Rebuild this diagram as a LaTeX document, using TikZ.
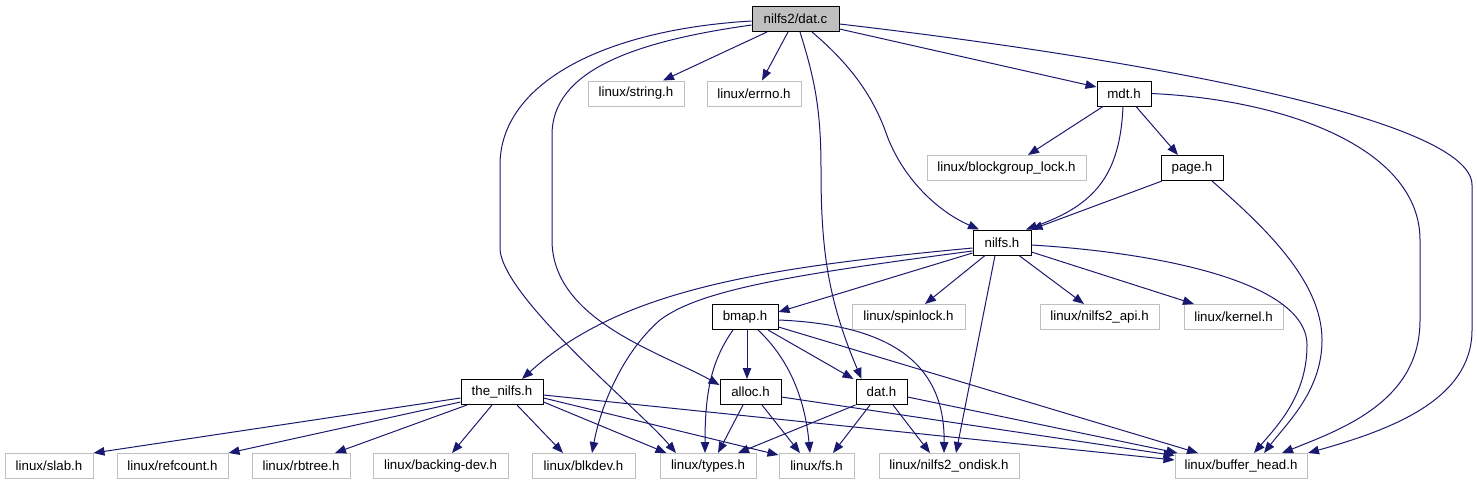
\documentclass[tikz,border=0pt]{standalone}
\usepackage{fontspec}
\setmainfont{Liberation Sans}
\usetikzlibrary{arrows.meta,calc}
\definecolor{edgec}{RGB}{25,25,112}
\definecolor{extc}{RGB}{191,191,191}
\begin{document}
\begin{tikzpicture}[x=1pt,y=-1pt,
  box/.style={rectangle, inner sep=0pt, minimum height=25pt, line width=1pt,
    font=\fontsize{13.3}{16}\selectfont},
  inc/.style={box, draw=black},
  ext/.style={box, draw=extc},
  src/.style={box, draw=black, fill=extc},
  edge/.style={draw=edgec, line width=1pt, -{Triangle[length=11pt,width=8.5pt]}}]
\useasboundingbox (0,0) rectangle (1477,485);

% nodes
\node[src, minimum width=87pt] (datc) at (795.5,19) {nilfs2/dat.c};
\node[ext, minimum width=96pt] (string) at (636,93.5) {linux/string.h};
\node[ext, minimum width=94pt] (errno) at (754,93.5) {linux/errno.h};
\node[inc, minimum width=54pt] (mdt) at (1124,93.5) {mdt.h};
\node[ext, minimum width=159pt] (bgl) at (1006.5,168) {linux/blockgroup\_lock.h};
\node[inc, minimum width=62pt] (page) at (1192,168) {page.h};
\node[inc, minimum width=58pt] (nilfs) at (1002,242.5) {nilfs.h};
\node[inc, minimum width=66pt] (bmap) at (745,317) {bmap.h};
\node[ext, minimum width=113pt] (spin) at (908.5,317) {linux/spinlock.h};
\node[ext, minimum width=119pt] (api) at (1099.5,317) {linux/nilfs2\_api.h};
\node[ext, minimum width=99pt] (kernel) at (1233.5,317) {linux/kernel.h};
\node[inc, minimum width=82pt] (thenilfs) at (502,392) {the\_nilfs.h};
\node[inc, minimum width=61pt] (alloc) at (750.5,392) {alloc.h};
\node[inc, minimum width=51pt] (dath) at (881.5,392) {dat.h};
\node[ext, minimum width=88pt] (slab) at (49,466) {linux/slab.h};
\node[ext, minimum width=111pt] (refc) at (172.5,466) {linux/refcount.h};
\node[ext, minimum width=98pt] (rbt) at (301,466) {linux/rbtree.h};
\node[ext, minimum width=135pt] (bdev) at (440.5,466) {linux/backing-dev.h};
\node[ext, minimum width=103pt] (blkdev) at (583.5,466) {linux/blkdev.h};
\node[ext, minimum width=96pt] (types) at (708,466) {linux/types.h};
\node[ext, minimum width=75pt] (fs) at (816.5,466) {linux/fs.h};
\node[ext, minimum width=140pt] (ondisk) at (949,466) {linux/nilfs2\_ondisk.h};
\node[ext, minimum width=132pt] (bh) at (1241,466) {linux/buffer\_head.h};

% edges from dat.c
\draw[edge] ($(datc.south)+(-28.5,0)$) -- ($(string.north)+(27,0)$);
\draw[edge] ($(datc.south)+(-7.5,0)$) -- ($(errno.north)+(8,0)$);
\draw[edge] ($(datc.south)+(4.5,0)$) .. controls (815,80) and (821,110) .. (821,170)
  .. controls (821,250) and (828,300) .. ($(dath.north west)+(6,0)$);
\draw[edge] ($(datc.south)+(16.5,0)$) .. controls (845,60) and (870,90) .. (885,130)
  .. controls (900,175) and (935,210) .. ($(nilfs.north)+(-23,0)$);
\draw[edge] ($(datc.east)+(0,10)$) -- ($(mdt.west)+(0,-6.5)$);
\draw[edge] ($(datc.east)+(0,5)$) .. controls (1150,60) and (1472,120) .. (1472,185)
  -- (1472,330) .. controls (1472,400) and (1390,430) .. ($(bh.north)+(67,0)$);
\draw[edge] ($(datc.west)+(0,6)$) .. controls (630,42) and (552,72) .. (552,135)
  -- (552,240) .. controls (552,320) and (660,352) .. ($(alloc.west)+(0,-7)$);
\draw[edge] ($(datc.west)+(0,2)$) .. controls (600,30) and (500,85) .. (500,165)
  -- (500,250) .. controls (505,300) and (640,410) .. ($(types.north)+(-32,0)$);

% edges from mdt.h
\draw[edge] ($(mdt.south)+(-21,0)$) -- ($(bgl.north)+(21.5,0)$);
\draw[edge] ($(mdt.south)+(-1,0)$) .. controls (1120,175) and (1095,205) .. ($(nilfs.north)+(24,0)$);
\draw[edge] ($(mdt.south)+(12,0)$) -- ($(page.north)+(-14,0)$);
\draw[edge] (mdt.east) .. controls (1290,100) and (1420,150) .. (1420,240)
  -- (1420,320) .. controls (1420,400) and (1345,428) .. ($(bh.north)+(41,0)$);

% edges from page.h
\draw[edge] ($(page.south)+(-30,0)$) -- (nilfs.north east);
\draw[edge] ($(page.south)+(20,0)$) .. controls (1262,225) and (1322,280) .. (1322,340)
  .. controls (1322,390) and (1288,422) .. ($(bh.north)+(23,0)$);

% edges from nilfs.h
\draw[edge] ($(nilfs.west)+(0,5.5)$) .. controls (760,268) and (620,290) .. ($(thenilfs.north)+(20,0)$);
\draw[edge] ($(nilfs.west)+(0,10.5)$) -- ($(bmap.east)+(0,-5)$);
\draw[edge] ($(nilfs.west)+(0,8.5)$) .. controls (790,275) and (700,290) .. (660,320)
  .. controls (620,355) and (600,410) .. ($(blkdev.north)+(8.5,0)$);
\draw[edge] ($(nilfs.south)+(-17,0)$) -- ($(spin.north)+(16.5,0)$);
\draw[edge] ($(nilfs.south)+(-7,0)$) -- ($(ondisk.north)+(7,0)$);
\draw[edge] ($(nilfs.south)+(17,0)$) -- ($(api.north)+(-15.5,0)$);
\draw[edge] ($(nilfs.east)+(0,9.5)$) -- ($(kernel.north)+(-39.5,0)$);
\draw[edge] ($(nilfs.east)+(0,2.5)$) .. controls (1150,252) and (1307,280) .. (1307,345)
  .. controls (1307,395) and (1278,425) .. ($(bh.north)+(13,0)$);

% edges from bmap.h
\draw[edge] ($(bmap.south)+(2,0)$) -- ($(alloc.north)+(-3.5,0)$);
\draw[edge] ($(bmap.south)+(-12,0)$) .. controls (712,360) and (705,390) .. ($(types.north)+(-3,0)$);
\draw[edge] ($(bmap.south)+(13,0)$) .. controls (790,360) and (805,400) .. ($(fs.north)+(-6.5,0)$);
\draw[edge] ($(bmap.south)+(23,0)$) -- ($(dath.north west)+(-2,0)$);
\draw[edge] ($(bmap.east)+(0,3)$) .. controls (900,325) and (945,370) .. ($(ondisk.north)+(-5,0)$);
\draw[edge] ($(bmap.east)+(0,10)$) -- ($(bh.north)+(-43,0)$);

% edges from alloc.h
\draw[edge] ($(alloc.south)+(-7.5,0)$) -- ($(types.north)+(10,0)$);
\draw[edge] ($(alloc.south)+(11.5,0)$) -- ($(fs.north)+(-16.5,0)$);
\draw[edge] ($(alloc.east)+(0,5)$) -- ($(bh.north west)+(0,2.5)$);

% edges from dat.h
\draw[edge] (dath.south west) -- ($(types.north)+(30,0)$);
\draw[edge] ($(dath.south)+(-11.5,0)$) -- ($(fs.north)+(16.5,0)$);
\draw[edge] ($(dath.south)+(11.5,0)$) -- ($(ondisk.north)+(-19,0)$);
\draw[edge] ($(dath.east)+(0,5)$) -- ($(bh.north west)+(3,0)$);

% edges from the_nilfs.h
\draw[edge] ($(thenilfs.west)+(0,6)$) -- (slab.north east);
\draw[edge] ($(thenilfs.west)+(0,10)$) -- (refc.north east);
\draw[edge] ($(thenilfs.south)+(-35,0)$) -- ($(rbt.north)+(34,0)$);
\draw[edge] ($(thenilfs.south)+(-10,0)$) -- ($(bdev.north)+(11.5,0)$);
\draw[edge] ($(thenilfs.south)+(15,0)$) -- ($(blkdev.north)+(-20.5,0)$);
\draw[edge] ($(thenilfs.east)+(0,10)$) -- ($(types.north west)+(7,0)$);
\draw[edge] ($(thenilfs.east)+(0,6)$) -- ($(fs.north west)+(0,2)$);
\draw[edge] ($(thenilfs.east)+(0,3)$) -- ($(bh.west)+(0,-6)$);
\end{tikzpicture}
\end{document}
